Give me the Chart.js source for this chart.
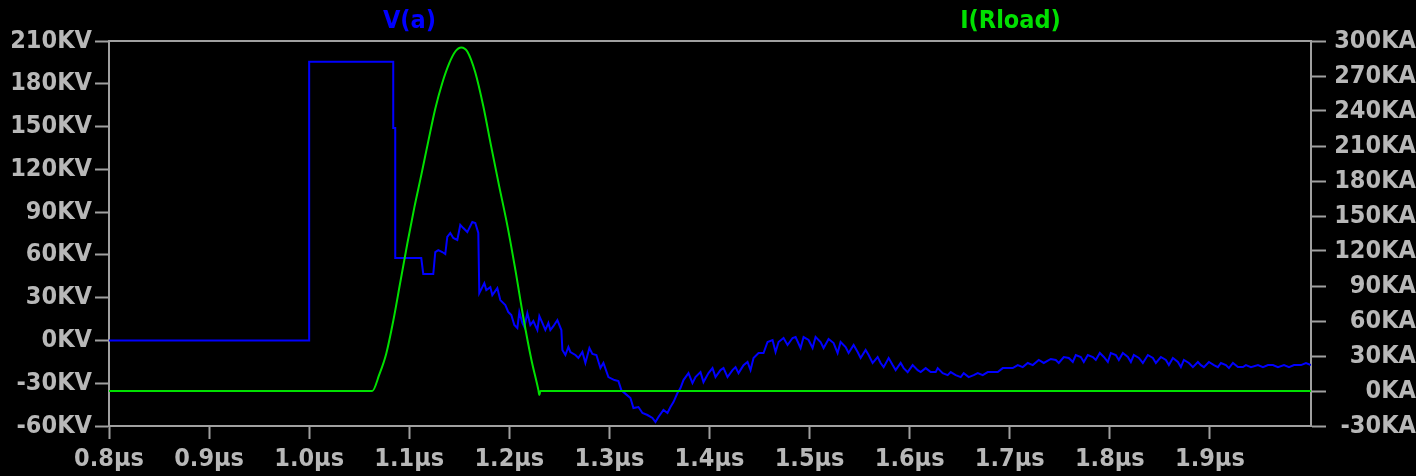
<!DOCTYPE html>
<html>
<head>
<meta charset="utf-8">
<script src="https://cdn.jsdelivr.net/npm/chart.js@4/dist/chart.umd.min.js"></script>
<style>
  html, body { margin: 0; padding: 0; background: #000; }
  canvas { display: block; }
</style>
</head>
<body>
<canvas id="plot" width="1416" height="476"></canvas>
<script>
// Time axis (µs)
const xTicks = [0.8, 0.9, 1.0, 1.1, 1.2, 1.3, 1.4, 1.5, 1.6, 1.7, 1.8, 1.9];
const vTicks = [-60, -30, 0, 30, 60, 90, 120, 150, 180, 210];
const iTicks = [-30, 0, 30, 60, 90, 120, 150, 180, 210, 240, 270, 300];

// V(a) node voltage: time in µs, value in kV
const tV = [
  0.800, 1.000, 1.000, 1.084, 1.084, 1.086, 1.086, 1.112, 1.114, 1.124,
  1.126, 1.129, 1.133, 1.136, 1.138, 1.141, 1.144, 1.148, 1.151, 1.154,
  1.158, 1.163, 1.166, 1.169, 1.170, 1.175, 1.177, 1.181, 1.183, 1.188,
  1.191, 1.196, 1.199, 1.202, 1.205, 1.208, 1.210, 1.213, 1.215, 1.218,
  1.221, 1.224, 1.228, 1.230, 1.233, 1.236, 1.239, 1.241, 1.244, 1.248,
  1.252, 1.253, 1.256, 1.259, 1.261, 1.266, 1.269, 1.273, 1.276, 1.280,
  1.283, 1.287, 1.291, 1.294, 1.299, 1.305, 1.309, 1.312, 1.317, 1.321,
  1.324, 1.329, 1.333, 1.338, 1.343, 1.346, 1.349, 1.354, 1.358, 1.361,
  1.364, 1.368, 1.371, 1.374, 1.379, 1.383, 1.386, 1.391, 1.394, 1.399,
  1.403, 1.406, 1.411, 1.414, 1.418, 1.423, 1.426, 1.429, 1.434, 1.438,
  1.441, 1.444, 1.449, 1.454, 1.458, 1.463, 1.466, 1.469, 1.474, 1.478,
  1.483, 1.486, 1.491, 1.494, 1.499, 1.503, 1.506, 1.511, 1.514, 1.519,
  1.524, 1.528, 1.531, 1.536, 1.539, 1.544, 1.548, 1.551, 1.556, 1.559,
  1.563, 1.568, 1.571, 1.574, 1.579, 1.583, 1.586, 1.591, 1.594, 1.598,
  1.603, 1.608, 1.611, 1.616, 1.621, 1.626, 1.628, 1.633, 1.638, 1.641,
  1.646, 1.651, 1.654, 1.659, 1.664, 1.668, 1.673, 1.678, 1.683, 1.688,
  1.693, 1.698, 1.703, 1.708, 1.713, 1.718, 1.723, 1.729, 1.734, 1.741,
  1.746, 1.749, 1.754, 1.759, 1.763, 1.766, 1.771, 1.774, 1.778, 1.783,
  1.786, 1.790, 1.794, 1.798, 1.801, 1.806, 1.809, 1.813, 1.818, 1.821,
  1.824, 1.829, 1.833, 1.838, 1.843, 1.846, 1.851, 1.856, 1.859, 1.863,
  1.868, 1.871, 1.874, 1.879, 1.883, 1.888, 1.891, 1.894, 1.899, 1.904,
  1.908, 1.911, 1.916, 1.919, 1.923, 1.928, 1.933, 1.936, 1.941, 1.948,
  1.953, 1.958, 1.963, 1.968, 1.974, 1.979, 1.984, 1.991, 1.996, 2.001
];
const vA = [
  0, 0, 195.5, 195.5, 149, 149, 57.8, 57.8, 46.6, 46.6,
  62.0, 63.3, 62.0, 60.6, 72.6, 75.4, 71.9, 70.5, 81.0, 78.8,
  76.0, 83.1, 82.4, 75.4, 33.2, 40.2, 35.3, 37.4, 31.8, 36.7,
  28.3, 24.8, 19.9, 17.8, 10.8, 8.7, 19.9, 12.3, 9.4, 19.2,
  10.8, 13.6, 7.3, 17.1, 12.3, 7.3, 12.3, 7.3, 10.0, 14.3,
  7.3, -6.7, -10.2, -4.6, -8.1, -10.2, -12.3, -8.1, -15.8, -5.3,
  -9.5, -10.2, -19.4, -15.8, -25.7, -27.8, -28.5, -35.0, -38.0, -40.4,
  -47.4, -46.7, -50.9, -52.3, -54.4, -57.2, -53.7, -48.8, -50.9, -46.7,
  -43.2, -36.9, -33.4, -27.8, -22.9, -29.9, -25.7, -22.2, -29.2, -22.9,
  -19.4, -25.7, -20.8, -19.4, -25.7, -20.8, -18.7, -22.9, -17.3, -15.1,
  -20.8, -12.3, -8.8, -8.8, -1.1, 0.3, -8.1, -1.1, 1.7, -3.2,
  1.7, 2.4, -5.3, 2.4, 0.3, -5.3, 2.4, -1.1, -5.3, 1.0,
  -1.8, -8.8, -1.1, -4.6, -8.8, -3.2, -8.1, -12.3, -6.7, -10.2,
  -15.8, -11.6, -15.8, -18.7, -12.3, -17.3, -20.8, -15.8, -19.4, -22.2,
  -17.3, -20.8, -22.2, -19.4, -22.2, -22.2, -19.4, -22.9, -24.3, -22.2,
  -24.3, -25.7, -22.9, -25.7, -24.3, -22.9, -24.3, -22.2, -22.2, -22.2,
  -19.4, -19.4, -19.4, -17.3, -18.7, -15.8, -17.3, -13.7, -15.8, -13.0,
  -13.7, -15.8, -11.6, -12.3, -15.1, -10.2, -11.6, -15.1, -10.2, -11.6,
  -13.7, -8.8, -11.6, -15.1, -8.8, -10.2, -13.7, -8.8, -11.6, -15.1,
  -10.2, -12.3, -15.8, -10.2, -12.3, -15.8, -11.6, -13.7, -17.3, -12.3,
  -15.1, -18.7, -13.7, -15.8, -18.7, -15.1, -17.3, -18.7, -15.1, -17.3,
  -18.7, -15.8, -17.3, -19.4, -15.8, -18.7, -18.7, -17.3, -18.7, -17.3,
  -18.7, -17.3, -17.3, -18.7, -17.3, -18.7, -17.3, -17.3, -15.8, -17.3
];

// I(Rload) load current: time in µs, value in kA
const tI = [
  0.800, 1.063, 1.070, 1.077, 1.084, 1.091, 1.098, 1.105, 1.112, 1.119,
  1.126, 1.133, 1.140, 1.146, 1.152, 1.158, 1.166, 1.174, 1.182, 1.190,
  1.198, 1.206, 1.214, 1.222, 1.229, 1.230, 1.231, 2.001
];
const iR = [
  0, 0, 14, 32, 60, 93, 126, 157, 185, 214,
  242, 264, 281, 291, 294.5, 291, 273, 244, 209, 175,
  142, 104, 63, 27, 1, -3.4, 0, 0
];

const AXIS_GRAY = '#a0a0a0';
const TEXT_GRAY = '#b8b8b8';
const V_BLUE = '#0000ff';
const I_GREEN = '#00e000';
const FONT = { family: '"DejaVu Sans Condensed", "DejaVu Sans", sans-serif', size: 25, weight: 'bold' };

const pts = (xs, ys) => xs.map((x, i) => ({ x, y: ys[i] }));

// Fill the canvas black and draw the frame top edge plus trace names
const scopeStyle = {
  id: 'scopeStyle',
  beforeDraw(chart) {
    const c = chart.ctx;
    c.save();
    c.fillStyle = '#000';
    c.fillRect(0, 0, chart.width, chart.height);
    c.restore();
  },
  afterDraw(chart) {
    const c = chart.ctx;
    const a = chart.chartArea;
    c.save();
    c.strokeStyle = AXIS_GRAY;
    c.lineWidth = 2;
    c.beginPath();
    c.moveTo(a.left, a.top);
    c.lineTo(a.right, a.top);
    c.stroke();
    c.font = `${FONT.weight} ${FONT.size}px ${FONT.family}`;
    c.textAlign = 'center';
    c.textBaseline = 'middle';
    const w = a.right - a.left;
    chart.data.datasets.forEach((ds, i) => {
      c.fillStyle = ds.borderColor;
      c.fillText(ds.label, a.left + w * (i === 0 ? 0.25 : 0.75), 21);
    });
    c.restore();
  }
};

new Chart(document.getElementById('plot'), {
  type: 'line',
  data: {
    datasets: [
      {
        label: 'V(a)',
        data: pts(tV, vA),
        yAxisID: 'yV',
        borderColor: V_BLUE,
        borderWidth: 2,
        pointRadius: 0,
        tension: 0,
        order: 1
      },
      {
        label: 'I(Rload)',
        data: pts(tI, iR),
        yAxisID: 'yI',
        borderColor: I_GREEN,
        borderWidth: 2,
        pointRadius: 0,
        cubicInterpolationMode: 'monotone',
        order: 0
      }
    ]
  },
  options: {
    responsive: false,
    animation: false,
    layout: { padding: { top: 41, left: 0, right: 0, bottom: 0 } },
    plugins: {
      legend: { display: false },
      tooltip: { enabled: false }
    },
    scales: {
      x: {
        type: 'linear',
        min: 0.8,
        max: 2.001,
        afterBuildTicks: axis => { axis.ticks = xTicks.map(v => ({ value: v })); },
        afterFit: s => { s.height = 50; },
        grid: { drawOnChartArea: false, drawTicks: true, tickLength: 13, tickWidth: 2, tickColor: AXIS_GRAY, color: AXIS_GRAY },
        border: { display: true, color: AXIS_GRAY, width: 2 },
        ticks: {
          color: TEXT_GRAY, font: FONT, padding: 5, maxRotation: 0, autoSkip: false,
          callback: v => v.toFixed(1) + 'µs'
        }
      },
      yV: {
        type: 'linear',
        position: 'left',
        min: -60,
        max: 210,
        afterBuildTicks: axis => { axis.ticks = vTicks.map(v => ({ value: v })); },
        afterFit: s => { s.width = 109; },
        grid: { drawOnChartArea: false, drawTicks: true, tickLength: 14, tickWidth: 2, tickColor: AXIS_GRAY, color: AXIS_GRAY },
        border: { display: true, color: AXIS_GRAY, width: 2 },
        ticks: { color: TEXT_GRAY, font: FONT, padding: 3, autoSkip: false, callback: v => v + 'KV' }
      },
      yI: {
        type: 'linear',
        position: 'right',
        min: -30,
        max: 300,
        afterBuildTicks: axis => { axis.ticks = iTicks.map(v => ({ value: v })); },
        afterFit: s => { s.width = 105; },
        grid: { drawOnChartArea: false, drawTicks: true, tickLength: 15, tickWidth: 2, tickColor: AXIS_GRAY, color: AXIS_GRAY },
        border: { display: true, color: AXIS_GRAY, width: 2 },
        ticks: { color: TEXT_GRAY, font: FONT, padding: 6, crossAlign: 'far', autoSkip: false, callback: v => v + 'KA' }
      }
    }
  },
  plugins: [scopeStyle]
});
</script>
</body>
</html>
